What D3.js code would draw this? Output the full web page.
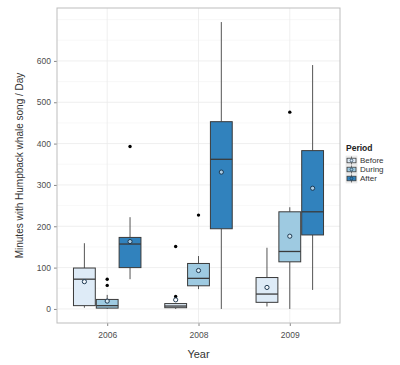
<!DOCTYPE html>
<html>
<head>
<meta charset="utf-8">
<script src="https://cdn.jsdelivr.net/npm/d3@7"></script>
<style>
  body { margin: 0; background: #fff; }
  text { font-family: "Liberation Sans", Arial, sans-serif; }
</style>
</head>
<body>
<div id="chart"></div>
<script>
// data
let years = ['2006', '2008', '2009'];
let periods = ['Before', 'During', 'After'];
let colors = ['#deebf7', '#9ecae1', '#3182bd'];
let yTicks = [0, 100, 200, 300, 400, 500, 600];

// [lower whisker, q1, median, q3, upper whisker] per year
let before = [[3, 8, 72, 99, 159], [0, 3, 7, 13, 13], [6, 16, 36, 76, 148]];
let during = [[0, 2, 8, 23, 34], [48, 56, 74, 110, 128], [0, 114, 139, 235, 246]];
let after = [[72, 100, 157, 173, 222], [0, 194, 362, 453, 694], [46, 179, 235, 383, 590]];

let beforeMean = [66, 22, 52];
let duringMean = [19, 93, 176];
let afterMean = [163, 331, 292];

let beforeOut = [[], [30, 151], []];
let duringOut = [[57, 72], [227], [476]];
let afterOut = [[393], [], []];

let width = 400, height = 365;
let panel = {left: 57, right: 340, top: 8, bottom: 323};
let boxColor = '#3a3a3a';

let svg = d3.select('#chart').append('svg')
  .attr('width', width)
  .attr('height', height);

let x = d3.scalePoint()
  .domain(years)
  .range([panel.left, panel.right])
  .padding(0.55);

let dodge = d3.scaleBand()
  .domain(periods)
  .range([-x.step() * 0.375, x.step() * 0.375]);

let y = d3.scaleLinear()
  .domain([-34, 728])
  .range([panel.bottom, panel.top]);

// grid
let grid = svg.append('g');
let minor = d3.range(50, 701, 100).concat([700]);
grid.selectAll('.minor').data(minor).enter().append('line')
  .attr('x1', panel.left).attr('x2', panel.right)
  .attr('y1', d => y(d)).attr('y2', d => y(d))
  .attr('stroke', '#f4f4f4').attr('stroke-width', 0.6);
grid.selectAll('.major').data(yTicks).enter().append('line')
  .attr('x1', panel.left).attr('x2', panel.right)
  .attr('y1', d => y(d)).attr('y2', d => y(d))
  .attr('stroke', '#ebebeb').attr('stroke-width', 0.8);
grid.selectAll('.vmajor').data(years).enter().append('line')
  .attr('y1', panel.top).attr('y2', panel.bottom)
  .attr('x1', d => x(d)).attr('x2', d => x(d))
  .attr('stroke', '#ebebeb').attr('stroke-width', 0.8);

// axes
let yAxis = svg.append('g')
  .attr('transform', 'translate(' + panel.left + ',0)')
  .call(d3.axisLeft(y).tickValues(yTicks).tickSize(3).tickPadding(3));
let xAxis = svg.append('g')
  .attr('transform', 'translate(0,' + panel.bottom + ')')
  .call(d3.axisBottom(x).tickSize(3).tickPadding(6));
[yAxis, xAxis].forEach(a => {
  a.select('.domain').remove();
  a.selectAll('line').attr('stroke', '#888');
  a.selectAll('text').attr('fill', '#4d4d4d').attr('font-size', 8.5)
    .style('font-family', '"Liberation Sans", Arial, sans-serif');
});

// boxes
let series = [
  {name: 'Before', stats: before, mean: beforeMean, out: beforeOut},
  {name: 'During', stats: during, mean: duringMean, out: duringOut},
  {name: 'After', stats: after, mean: afterMean, out: afterOut}
];

let boxes = [];
series.forEach((s, si) => {
  years.forEach((yr, i) => {
    boxes.push({year: yr, period: s.name, color: colors[si], st: s.stats[i], mean: s.mean[i], out: s.out[i]});
  });
});

let bw = dodge.bandwidth();
let g = svg.append('g');
let bx = g.selectAll('g.box').data(boxes).enter().append('g')
  .attr('transform', d => 'translate(' + (x(d.year) + dodge(d.period)) + ',0)');

bx.append('line')
  .attr('x1', bw / 2).attr('x2', bw / 2)
  .attr('y1', d => y(d.st[3])).attr('y2', d => y(d.st[4]))
  .attr('stroke', '#555').attr('stroke-width', 1);
bx.append('line')
  .attr('x1', bw / 2).attr('x2', bw / 2)
  .attr('y1', d => y(d.st[0])).attr('y2', d => y(d.st[1]))
  .attr('stroke', '#555').attr('stroke-width', 1);
bx.append('rect')
  .attr('x', 0.5).attr('width', bw - 1)
  .attr('y', d => y(d.st[3]))
  .attr('height', d => y(d.st[1]) - y(d.st[3]))
  .attr('fill', d => d.color)
  .attr('stroke', boxColor).attr('stroke-width', 1);
bx.append('line')
  .attr('x1', 0.5).attr('x2', bw - 0.5)
  .attr('y1', d => y(d.st[2])).attr('y2', d => y(d.st[2]))
  .attr('stroke', boxColor).attr('stroke-width', 1.3);

bx.selectAll('circle.out').data(d => d.out).enter().append('circle')
  .attr('cx', bw / 2).attr('cy', d => y(d)).attr('r', 1.7)
  .attr('fill', '#000');

bx.append('circle')
  .attr('cx', bw / 2).attr('cy', d => y(d.mean)).attr('r', 2.1)
  .attr('fill', '#fff').attr('fill-opacity', 0.6)
  .attr('stroke', '#1f3a52').attr('stroke-width', 1);

// panel border
svg.append('rect')
  .attr('x', panel.left).attr('y', panel.top)
  .attr('width', panel.right - panel.left)
  .attr('height', panel.bottom - panel.top)
  .attr('fill', 'none').attr('stroke', '#bdbdbd').attr('stroke-width', 1);

// titles
svg.append('text')
  .attr('x', (panel.left + panel.right) / 2).attr('y', 358)
  .attr('text-anchor', 'middle').attr('font-size', 11).attr('fill', '#333')
  .text('Year');
svg.append('text')
  .attr('transform', 'translate(23,' + ((panel.top + panel.bottom) / 2) + ') rotate(-90)')
  .attr('text-anchor', 'middle').attr('font-size', 10).attr('fill', '#333')
  .text('Minutes with Humpback whale song / Day');

// legend
let legend = svg.append('g').attr('transform', 'translate(346,143)');
legend.append('text')
  .attr('x', 0).attr('y', 8)
  .attr('font-size', 8.5).attr('font-weight', 'bold').attr('fill', '#222')
  .text('Period');
let keys = legend.selectAll('g.key').data(periods).enter().append('g')
  .attr('transform', (d, i) => 'translate(0,' + (13 + i * 9) + ')');
keys.append('rect')
  .attr('width', 11).attr('height', 9)
  .attr('fill', '#f2f2f2').attr('stroke', '#ddd').attr('stroke-width', 0.5);
keys.append('line')
  .attr('x1', 5.5).attr('x2', 5.5).attr('y1', 0.5).attr('y2', 8.5)
  .attr('stroke', '#555').attr('stroke-width', 0.8);
keys.append('rect')
  .attr('x', 1).attr('y', 2.2).attr('width', 9).attr('height', 4.6)
  .attr('fill', (d, i) => colors[i])
  .attr('stroke', boxColor).attr('stroke-width', 0.8);
keys.append('circle')
  .attr('cx', 5.5).attr('cy', 4.5).attr('r', 1.4)
  .attr('fill', 'none').attr('stroke', '#1f3a52').attr('stroke-width', 0.7);
keys.append('text')
  .attr('x', 14).attr('y', 7.3)
  .attr('font-size', 8).attr('fill', '#333')
  .text(d => d);
</script>
</body>
</html>
